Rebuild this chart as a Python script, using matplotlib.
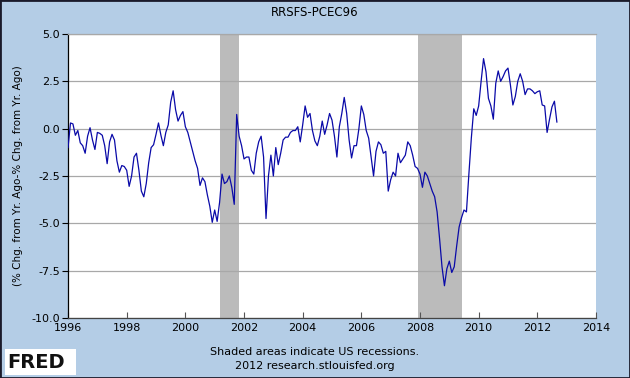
import numpy as np
import pandas as pd
import matplotlib.pyplot as plt
from matplotlib.patches import Rectangle

# monthly values, Jan 1996 .. Sep 2012
vals_1996 = [-1.0, 0.3, 0.25, -0.35, -0.1, -0.75, -0.9, -1.3, -0.4, 0.05, -0.6, -1.1]
vals_1997 = [-0.2, -0.25, -0.35, -0.9, -1.85, -0.7, -0.3, -0.6, -1.7, -2.3, -1.95, -2.0]
vals_1998 = [-2.2, -3.05, -2.5, -1.5, -1.3, -2.2, -3.3, -3.6, -2.9, -1.8, -1.0, -0.85]
vals_1999 = [-0.3, 0.3, -0.35, -0.9, -0.2, 0.2, 1.4, 2.0, 1.0, 0.4, 0.7, 0.9]
vals_2000 = [0.1, -0.2, -0.7, -1.2, -1.7, -2.1, -3.0, -2.6, -2.8, -3.5, -4.1, -4.95]
vals_2001 = [-4.3, -4.9, -3.9, -2.4, -2.9, -2.8, -2.5, -3.1, -4.0, 0.75, -0.4, -0.9]
vals_2002 = [-1.6, -1.5, -1.5, -2.2, -2.4, -1.3, -0.7, -0.4, -1.5, -4.75, -2.5, -1.4]
vals_2003 = [-2.5, -1.0, -1.9, -1.3, -0.6, -0.45, -0.45, -0.2, -0.1, -0.1, 0.1, -0.7]
vals_2004 = [0.2, 1.2, 0.6, 0.8, -0.1, -0.65, -0.9, -0.4, 0.4, -0.3, 0.2, 0.8]
vals_2005 = [0.45, -0.4, -1.5, 0.1, 0.8, 1.65, 0.8, -0.6, -1.55, -0.9, -0.9, 0.0]
vals_2006 = [1.2, 0.75, -0.1, -0.5, -1.5, -2.5, -1.2, -0.7, -0.85, -1.3, -1.2, -3.3]
vals_2007 = [-2.7, -2.3, -2.5, -1.3, -1.8, -1.6, -1.4, -0.7, -0.9, -1.4, -2.0, -2.1]
vals_2008 = [-2.4, -3.1, -2.3, -2.5, -2.9, -3.3, -3.6, -4.4, -5.8, -7.3, -8.3, -7.4]
vals_2009 = [-7.0, -7.6, -7.3, -6.2, -5.2, -4.7, -4.3, -4.4, -2.4, -0.5, 1.05, 0.7]
vals_2010 = [1.2, 2.5, 3.7, 3.0, 1.6, 1.2, 0.5, 2.4, 3.05, 2.5, 2.75, 3.05]
vals_2011 = [3.2, 2.3, 1.25, 1.7, 2.5, 2.9, 2.5, 1.8, 2.1, 2.1, 2.0, 1.85]
vals_2012 = [1.95, 2.0, 1.25, 1.2, -0.2, 0.5, 1.15, 1.45, 0.35]

values = (vals_1996 + vals_1997 + vals_1998 + vals_1999 + vals_2000 + vals_2001
          + vals_2002 + vals_2003 + vals_2004 + vals_2005 + vals_2006 + vals_2007
          + vals_2008 + vals_2009 + vals_2010 + vals_2011 + vals_2012)
dates = pd.date_range('1996-01-01', periods=len(values), freq='MS')
years = dates.year + (dates.month - 1) / 12.0

recessions = [(2001.17, 2001.83), (2007.92, 2009.42)]
x_ticks = list(range(1996, 2015, 2))
y_ticks = [5.0, 2.5, 0.0, -2.5, -5.0, -7.5, -10.0]

bg = '#b4cde6'
fig = plt.figure(figsize=(6.3, 3.78), dpi=100, facecolor=bg)
ax = fig.add_axes([0.108, 0.159, 0.838, 0.751])
ax.set_facecolor('white')

for start, end in recessions:
    ax.axvspan(start, end, color='#bbbbbb', lw=0, zorder=1)

for yv in y_ticks:
    ax.axhline(yv, color='#a8a8a8', lw=0.9, zorder=2)

ax.plot(years, values, color='#0a0aa8', lw=0.9, zorder=3)

ax.set_xlim(1996, 2014)
ax.set_ylim(-10, 5)
ax.set_xticks(x_ticks)
ax.set_xticklabels([str(t) for t in x_ticks], fontsize=8)
ax.set_yticks(y_ticks)
ax.set_yticklabels(['%.1f' % t for t in y_ticks], fontsize=8)
ax.tick_params(axis='x', direction='in', length=4, pad=4, color='#555555')
ax.tick_params(axis='y', direction='out', length=4, pad=2)

ax.spines['left'].set_color('black')
ax.spines['bottom'].set_color('#444444')
ax.spines['top'].set_color('#a8a8a8')
ax.spines['right'].set_visible(False)
for s in ax.spines.values():
    s.set_linewidth(0.9)

ax.set_ylabel('(% Chg. from Yr. Ago-% Chg. from Yr. Ago)', fontsize=7.5, labelpad=6)

fig.text(0.5, 0.968, 'RRSFS-PCEC96', ha='center', va='center', fontsize=8.5)
fig.text(0.5, 0.068, 'Shaded areas indicate US recessions.', ha='center', va='center', fontsize=8)
fig.text(0.5, 0.033, '2012 research.stlouisfed.org', ha='center', va='center', fontsize=8)

# FRED logo
fig.patches.append(Rectangle((0.008, 0.008), 0.112, 0.07, transform=fig.transFigure,
                             facecolor='white', edgecolor='none'))
fig.text(0.011, 0.042, 'FRED', ha='left', va='center', fontsize=14,
         fontweight='heavy', color='#111111')

# dark frame round the picture
fig.patches.append(Rectangle((0, 0), 1, 1, transform=fig.transFigure,
                             facecolor='none', edgecolor='#1a1a2a', lw=2))

fig.savefig('out.png', dpi=100, facecolor=bg)
